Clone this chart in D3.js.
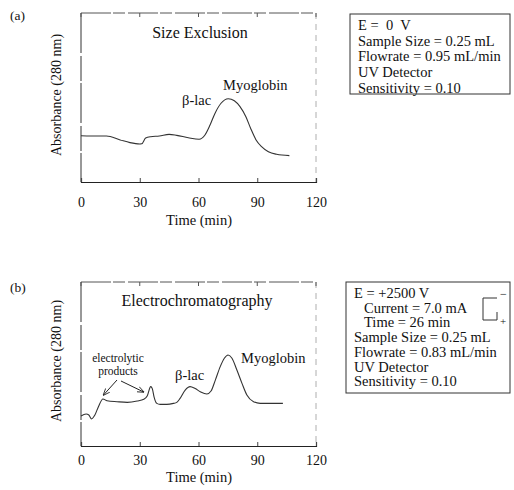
<!DOCTYPE html>
<html>
<head>
<meta charset="utf-8">
<script src="https://cdn.jsdelivr.net/npm/d3@7"></script>
<style>
  body { margin: 0; background: #fff; }
  svg text { font-family: "Liberation Serif", "DejaVu Serif", serif; fill: #111; white-space: pre; }
</style>
</head>
<body>
<svg id="chart" width="514" height="490"></svg>
<script>
// Tick labels shared by both panels
const xTicks = [0, 30, 60, 90, 120];

// (a) size exclusion trace, time (min) vs absorbance (arbitrary units)
const timeA = [0, 5, 13, 20, 25, 30, 31, 33, 35.6, 40, 45, 48.9, 54.8, 60.3, 63.3, 65.9, 68.4, 71.5, 75.2, 78.3, 81.2, 84.2, 86.6, 89.4, 92.2, 95.7, 99.9, 106.4];
const absA  = [27.4, 27.2, 27.2, 24.9, 23.3, 22.5, 22.6, 26.0, 26.8, 27.2, 28.2, 27.6, 26.2, 25.3, 27.8, 33.7, 40.6, 46.6, 49.3, 48.1, 44.6, 38.6, 31.8, 24.9, 20.9, 17.9, 16.4, 15.6];

// (b) electrochromatography trace
const timeB = [0, 2.6, 4, 5.4, 7.1, 8.9, 11.2, 13.3, 18.4, 23.6, 28.7, 32.1, 33.8, 35.6, 36.4, 37.3, 38.7, 40.4, 43.8, 47.2, 48.9, 50.6, 53.2, 55.7, 58.3, 60.9, 64.3, 66.4, 68.6, 71.1, 73.2, 75.1, 77.1, 79.6, 82.2, 84.7, 88.1, 91.5, 103.1];
const absB  = [18.3, 19.5, 18.9, 16.5, 18.9, 24, 28.7, 27.6, 27, 26.6, 27.4, 28.5, 30.5, 36.2, 35, 30, 26, 25.4, 25.4, 26, 26.6, 29, 34.1, 36.2, 35, 33.1, 31.7, 33.5, 40.2, 48.4, 53.5, 55.5, 53.5, 46.3, 38.2, 31.1, 27, 26, 26];

// Conditions boxes
const infoA = ["E =  0  V", "Sample Size = 0.25 mL", "Flowrate = 0.95 mL/min", "UV Detector", "Sensitivity = 0.10"];
const infoB = ["E = +2500 V", "Current = 7.0 mA", "Time = 26 min", "Sample Size = 0.25 mL", "Flowrate = 0.83 mL/min", "UV Detector", "Sensitivity = 0.10"];
const infoIndent = [false, true, true, false, false, false, false];

const svg = d3.select("#chart");

// arrow head marker
svg.append("defs").append("marker")
    .attr("id", "arrow")
    .attr("viewBox", "0 0 10 10")
    .attr("refX", 9).attr("refY", 5)
    .attr("markerWidth", 7).attr("markerHeight", 7)
    .attr("orient", "auto")
    .append("path")
    .attr("d", "M0,1 L10,5 L0,9")
    .attr("fill", "none")
    .attr("stroke", "#222")
    .attr("stroke-width", 1.2);

function drawPanel(p) {
    const x = d3.scaleLinear().domain([0, 120]).range([81, 316]);
    const y = d3.scaleLinear().domain([0, 100]).range([p.bottom, p.top]);
    const g = svg.append("g");

    // frame: left and bottom solid, top and right faint like the scan
    g.append("line").attr("x1", x(0)).attr("x2", x(120)).attr("y1", p.top).attr("y2", p.top)
        .attr("stroke", "#555").attr("stroke-width", 1).attr("stroke-dasharray", "30,2,12,3");
    g.append("line").attr("x1", x(120)).attr("x2", x(120)).attr("y1", p.top).attr("y2", p.bottom)
        .attr("stroke", "#999").attr("stroke-width", 0.8).attr("stroke-dasharray", "6,5");
    g.append("line").attr("x1", x(0)).attr("x2", x(0)).attr("y1", p.top).attr("y2", p.bottom)
        .attr("stroke", "#333").attr("stroke-width", 1).attr("stroke-dasharray", "40,3,25,2");

    const xAxis = d3.axisBottom(x).tickValues(xTicks).tickSize(-4).tickPadding(p.tickPad);
    const ax = g.append("g").attr("transform", `translate(0,${p.bottom})`).call(xAxis);
    ax.select(".domain").attr("stroke", "#222").attr("stroke-width", 1.2);
    ax.selectAll(".tick line").attr("stroke", "#444");
    ax.selectAll("text").style("font-size", "14px").attr("fill", "#111");

    // top frame ticks
    g.selectAll(".ttick").data(xTicks).enter().append("line")
        .attr("x1", d => x(d)).attr("x2", d => x(d))
        .attr("y1", p.top).attr("y2", p.top + 4)
        .attr("stroke", "#555");

    g.append("text").attr("x", 199).attr("y", p.bottom + p.timeOff)
        .attr("text-anchor", "middle").style("font-size", "14.5px").text("Time (min)");

    g.append("text")
        .attr("transform", `translate(61,${p.labelY}) rotate(-90)`)
        .attr("text-anchor", "middle").style("font-size", "14px")
        .text("Absorbance (280 nm)");

    g.append("text").attr("x", p.tagX).attr("y", p.tagY).style("font-size", "13.5px").text(p.tag);

    g.append("text").attr("x", p.titleX).attr("y", p.titleY)
        .attr("text-anchor", "middle").style("font-size", "16px").text(p.title);

    const line = d3.line().x(d => x(d[0])).y(d => y(d[1])).curve(d3.curveMonotoneX);
    g.append("path")
        .datum(d3.zip(p.time, p.abs))
        .attr("d", line)
        .attr("fill", "none")
        .attr("stroke", "#333")
        .attr("stroke-width", 1.1);

    // info box
    const box = svg.append("g");
    box.append("rect")
        .attr("x", p.box[0]).attr("y", p.box[1]).attr("width", p.box[2]).attr("height", p.box[3])
        .attr("fill", "none").attr("stroke", "#333").attr("stroke-width", 1);
    box.selectAll("text.info").data(p.info).enter().append("text")
        .attr("class", "info")
        .attr("x", (d, i) => p.box[0] + 8 + (p.indent && p.indent[i] ? 10 : 0))
        .attr("y", (d, i) => p.box[1] + 16 + i * p.lineGap)
        .style("font-size", "14.5px")
        .text(d => d);

    return { g, x, y };
}

const a = drawPanel({
    top: 13, bottom: 182, labelY: 95, tickPad: 15, timeOff: 43,
    tag: "(a)", tagX: 10, tagY: 20,
    title: "Size Exclusion", titleX: 200, titleY: 38,
    time: timeA, abs: absA,
    info: infoA, box: [350, 14, 160, 80], lineGap: 15.7
});
a.g.append("text").attr("x", 182).attr("y", 105).style("font-size", "14.5px").text("β-lac");
a.g.append("text").attr("x", 223).attr("y", 90).style("font-size", "14.5px").text("Myoglobin");

const b = drawPanel({
    top: 282, bottom: 446, labelY: 361, tickPad: 9, timeOff: 36,
    tag: "(b)", tagX: 10, tagY: 292,
    title: "Electrochromatography", titleX: 197, titleY: 306,
    time: timeB, abs: absB,
    info: infoB, indent: infoIndent, box: [346, 282, 164, 111], lineGap: 14.7
});
b.g.append("text").attr("x", 175).attr("y", 380).style("font-size", "14.5px").text("β-lac");
b.g.append("text").attr("x", 241).attr("y", 363).style("font-size", "14.5px").text("Myoglobin");
b.g.append("text").attr("x", 118).attr("y", 362).attr("text-anchor", "middle").style("font-size", "11.5px").text("electrolytic");
b.g.append("text").attr("x", 118).attr("y", 375).attr("text-anchor", "middle").style("font-size", "11.5px").text("products");
// arrows from label to the two product peaks
b.g.append("line").attr("x1", 117).attr("y1", 380).attr("x2", b.x(11.5)).attr("y2", 395)
    .attr("stroke", "#222").attr("marker-end", "url(#arrow)");
b.g.append("line").attr("x1", 121).attr("y1", 381).attr("x2", b.x(32)).attr("y2", 392)
    .attr("stroke", "#222").attr("marker-end", "url(#arrow)");

// polarity symbol in box (b)
svg.append("path")
    .attr("d", "M483,298 H497 M483,298 V320 H497 M497,312 V320")
    .attr("fill", "none").attr("stroke", "#333").attr("stroke-width", 1);
svg.append("text").attr("x", 500).attr("y", 298).style("font-size", "12px").text("−");
svg.append("text").attr("x", 500).attr("y", 325).style("font-size", "11px").text("+");
</script>
</body>
</html>
